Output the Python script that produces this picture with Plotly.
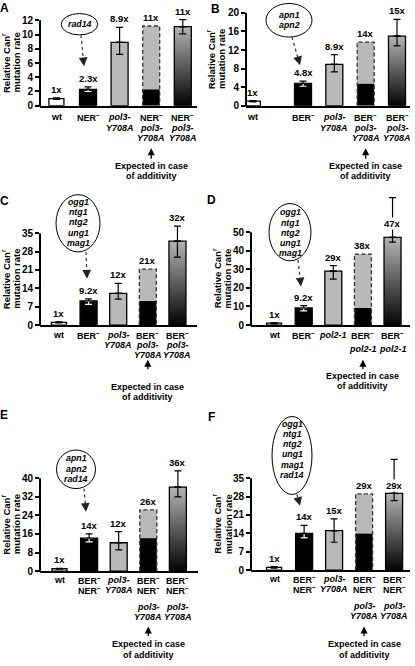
import numpy as np
import plotly.graph_objects as go

W, H = 415, 666
FONT = "Liberation Sans, Arial, sans-serif"
GRAY = "#b9b9b9"
GRAD_TOP = "#b4b4b4"
M = "<sup>–</sup>"          # superscript minus in genotype names
P3 = ["<i>pol3-</i>", "<i>Y708A</i>"]

# ---------------- data ----------------
# value order: wt, repair mutant, polymerase mutant, double mutant
A_VALUES    = [1.0, 2.3, 8.9, 11.1]
A_ERR_PLUS  = [0.12, 0.35, 2.1, 1.0]
A_ERR_MINUS = [0.12, 0.30, 1.7, 1.0]
A_LABELS    = ["1x", "2.3x", "8.9x", "11x", "11x"]
A_GENES     = ["rad14"]
A_TICKS     = [["wt"], ["NER" + M], P3, ["NER" + M] + P3, ["NER" + M] + P3]
A_YTICKS    = [0, 2, 4, 6, 8, 10, 12]

B_VALUES    = [1.0, 4.8, 8.9, 15.0]
B_ERR_PLUS  = [0.12, 0.5, 2.1, 3.6]
B_ERR_MINUS = [0.15, 0.6, 1.6, 2.1]
B_LABELS    = ["1x", "4.8x", "8.9x", "14x", "15x"]
B_GENES     = ["apn1", "apn2"]
B_TICKS     = [["wt"], ["BER" + M], P3, ["BER" + M] + P3, ["BER" + M] + P3]
B_YTICKS    = [0, 4, 8, 12, 16, 20]

C_VALUES    = [1.0, 9.2, 12.1, 32.0]
C_ERR_PLUS  = [0.2, 0.8, 3.8, 5.7]
C_ERR_MINUS = [0.2, 1.3, 2.2, 6.1]
C_LABELS    = ["1x", "9.2x", "12x", "21x", "32x"]
C_GENES     = ["ogg1", "ntg1", "ntg2", "ung1", "mag1"]
C_TICKS     = [["wt"], ["BER" + M], P3, ["BER" + M] + P3, ["BER" + M] + P3]
C_YTICKS    = [0, 7, 14, 21, 28, 35]

D_VALUES    = [1.0, 9.2, 29.0, 47.2]
D_ERR_PLUS  = [0.3, 1.3, 3.0, 21.4]
D_ERR_MINUS = [0.3, 1.6, 4.3, 2.5]
D_LABELS    = ["1x", "9.2x", "29x", "38x", "47x"]
D_GENES     = ["ogg1", "ntg1", "ntg2", "ung1", "mag1"]
D_TICKS     = [["wt"], ["BER" + M], ["<i>pol2-1</i>"], ["BER" + M, "<i>pol2-1</i>"],
               ["BER" + M, "<i>pol2-1</i>"]]
D_YTICKS    = [0, 10, 20, 30, 40, 50]

E_VALUES    = [1.0, 14.2, 12.2, 36.2]
E_ERR_PLUS  = [0.2, 1.8, 4.8, 7.0]
E_ERR_MINUS = [0.2, 1.6, 3.1, 4.2]
E_LABELS    = ["1x", "14x", "12x", "26x", "36x"]
E_GENES     = ["apn1", "apn2", "rad14"]
E_TICKS     = [["wt"], ["BER" + M, "NER" + M], P3, ["BER" + M, "NER" + M] + P3,
               ["BER" + M, "NER" + M] + P3]
E_YTICKS    = [0, 8, 16, 24, 32, 40]

F_VALUES    = [1.0, 14.0, 15.0, 29.2]
F_ERR_PLUS  = [0.3, 3.0, 4.5, 13.0]
F_ERR_MINUS = [0.3, 1.7, 4.4, 2.7]
F_LABELS    = ["1x", "14x", "15x", "29x", "29x"]
F_GENES     = ["ogg1", "ntg1", "ntg2", "ung1", "mag1", "rad14"]
F_TICKS     = E_TICKS
F_YTICKS    = [0, 7, 14, 21, 28, 35]

# ---------------- layout (pixel geometry of each panel) ----------------
LAYOUTS = {
    "A": dict(letter=(4, 6), x0=40, x1=197, xr=(-0.52, 4.45), yz=105, yt=18.5,
              rows=[11.5, 22, 32.5], ell=(79.5, 22.5, 18.3, 10.8), gene_y=[22.5],
              arrow=((81, 33.5), (84, 65)), exp_arrow=(160, 148), exp_text=(166, 176.5),
              ytitle_x=(6, 16.5)),
    "B": dict(letter=(215, 7), x0=246, x1=410, xr=(-0.82, 4.415), yz=105, yt=11,
              wt_shift=-0.6,
              rows=[11.5, 22, 32.5], ell=(289, 18.5, 23, 17), gene_y=[13.5, 23.5],
              arrow=((292, 35.5), (300, 64)), exp_arrow=(160, 148), exp_text=(166, 176.5),
              ytitle_x=(211, 221.7)),
    "C": dict(letter=(4, 201), x0=40, x1=197, xr=(-0.64, 4.66), yz=327, yt=234,
              rows=[9.5, 19.7, 29.9], ell=(78, 224, 22, 29), gene_y=[202, 212.5, 223, 233.5, 244],
              arrow=((86, 253), (87, 280)), exp_arrow=(373, 362), exp_text=(389.5, 400),
              ytitle_x=(6, 16.5)),
    "D": dict(letter=(211, 200), x0=251, x1=410, xr=(-0.78, 4.59), yz=327, yt=233,
              rows=[9.5, 24], ell=(290, 233, 21, 29), gene_y=[213, 223.3, 233.6, 243.9, 254.2],
              arrow=((298, 261), (301, 288)), exp_arrow=(373, 362), exp_text=(378.5, 389),
              ytitle_x=(216.5, 227.2), final_on_bar=True, final_shift=7),
    "E": dict(letter=(4, 418), x0=40, x1=198, xr=(-0.66, 4.68), yz=576, yt=482,
              rows=[8.5, 18.7, 36, 46.2], ell=(76, 473, 19.5, 19.5), gene_y=[462, 472.2, 482.4],
              arrow=((84, 492.5), (86, 516)), exp_arrow=(643, 632), exp_text=(650, 660.5),
              ytitle_x=(6, 16.5)),
    "F": dict(letter=(211.5, 420), x0=251, x1=410, xr=(-0.77, 4.53), yz=575, yt=482,
              rows=[8.5, 18.7, 36, 46.2], ell=(292, 459, 20, 39.5),
              gene_y=[427, 437.3, 447.6, 457.9, 468.2, 478.5],
              arrow=((297, 498.5), (300, 510)), exp_arrow=(643, 632), exp_text=(650, 660.5),
              ytitle_x=(217.5, 228.2), final_on_bar=True, final_shift=1),
}

PANELS = [
    dict(name="A", values=A_VALUES, err_plus=A_ERR_PLUS, err_minus=A_ERR_MINUS, labels=A_LABELS,
         genes=A_GENES, ticks=A_TICKS, yticks=A_YTICKS),
    dict(name="B", values=B_VALUES, err_plus=B_ERR_PLUS, err_minus=B_ERR_MINUS, labels=B_LABELS,
         genes=B_GENES, ticks=B_TICKS, yticks=B_YTICKS),
    dict(name="C", values=C_VALUES, err_plus=C_ERR_PLUS, err_minus=C_ERR_MINUS, labels=C_LABELS,
         genes=C_GENES, ticks=C_TICKS, yticks=C_YTICKS),
    dict(name="D", values=D_VALUES, err_plus=D_ERR_PLUS, err_minus=D_ERR_MINUS, labels=D_LABELS,
         genes=D_GENES, ticks=D_TICKS, yticks=D_YTICKS),
    dict(name="E", values=E_VALUES, err_plus=E_ERR_PLUS, err_minus=E_ERR_MINUS, labels=E_LABELS,
         genes=E_GENES, ticks=E_TICKS, yticks=E_YTICKS),
    dict(name="F", values=F_VALUES, err_plus=F_ERR_PLUS, err_minus=F_ERR_MINUS, labels=F_LABELS,
         genes=F_GENES, ticks=F_TICKS, yticks=F_YTICKS),
]


def px_x(p):
    return p / W


def px_y(p):
    return 1 - p / H


fig = go.Figure()
annotations, shapes, axes = [], [], {}
VAL_FONT = dict(family=FONT, size=9.5, color="black")
TXT = dict(family=FONT, size=9, color="black")

for i, P in enumerate(PANELS, start=1):
    L = LAYOUTS[P["name"]]
    xa = "x" if i == 1 else f"x{i}"
    ya = "y" if i == 1 else f"y{i}"
    xk = "xaxis" if i == 1 else f"xaxis{i}"
    yk = "yaxis" if i == 1 else f"yaxis{i}"
    ydom = f"{ya} domain"
    vals, ep, em = P["values"], P["err_plus"], P["err_minus"]
    ymax = P["yticks"][-1]
    xr = L["xr"]
    ppu = (L["x1"] - L["x0"]) / (xr[1] - xr[0])
    wb, ww = 17.0 / ppu, 15.0 / ppu
    xpos = np.arange(5, dtype=float)
    xpos[0] += L.get("wt_shift", 0.0)
    x_wt, x_r, x_p, x_e, x_d = xpos
    exp_base, exp_add = vals[1], vals[2]
    exp_top = exp_base + exp_add
    common = dict(xaxis=xa, yaxis=ya, showlegend=False, hoverinfo="skip")

    # the axis range is extended above the top tick so that long error bars are not clipped;
    # the visible axis line stops at the top tick as in the original figure
    highest = max(v + e for v, e in zip(vals, ep))
    yext = max(ymax, highest) * 1.04
    px_per_unit = (L["yz"] - L["yt"]) / ymax
    dom_top_px = L["yz"] - yext * px_per_unit

    # measured single mutants and wild type
    fig.add_bar(x=[x_wt, x_r, x_p], y=vals[:3], width=[ww, wb, wb],
                marker=dict(color=["white", "black", GRAY], line=dict(color="black", width=1.3)),
                **common)
    # expected (additive) stacked bar
    fig.add_bar(x=[x_e], y=[exp_base], width=[wb], marker=dict(color="black", line=dict(width=0)),
                **common)
    fig.add_bar(x=[x_e], y=[exp_add], base=[exp_base], width=[wb],
                marker=dict(color=GRAY, line=dict(width=0)), **common)
    xl, xh = x_e - wb / 2, x_e + wb / 2
    fig.add_scatter(x=[xl, xl, xh, xh], y=[0, exp_top, exp_top, 0], mode="lines",
                    line=dict(color="#333333", width=1.3, dash="4px,2.5px"), **common)
    # double mutant with vertical gradient
    xl, xh = x_d - wb / 2, x_d + wb / 2
    fig.add_scatter(x=[xl, xh, xh, xl, xl], y=[0, 0, vals[3], vals[3], 0], mode="lines",
                    fill="toself",
                    fillgradient=dict(type="vertical", colorscale=[[0, "black"], [1, GRAD_TOP]],
                                      start=0, stop=vals[3]),
                    line=dict(color="black", width=1.3), **common)

    # error bars: lower halves first (white inside the black bar), then upper halves
    eb = dict(type="data", symmetric=False, thickness=1.2, width=3.5)
    mk = dict(size=2, color="rgba(0,0,0,0)")
    fig.add_scatter(x=[x_wt, x_p, x_d], y=[vals[0], vals[2], vals[3]], mode="markers", marker=mk,
                    error_y=dict(eb, array=[0, 0, 0], arrayminus=[em[0], em[2], em[3]], color="black"),
                    cliponaxis=False, **common)
    fig.add_scatter(x=[x_r], y=[vals[1]], mode="markers", marker=mk,
                    error_y=dict(eb, array=[0], arrayminus=[em[1]], color="white"),
                    cliponaxis=False, **common)
    fig.add_scatter(x=[x_wt, x_r, x_p, x_d], y=vals, mode="markers", marker=mk,
                    error_y=dict(eb, array=ep, arrayminus=[0, 0, 0, 0], color="black"),
                    cliponaxis=False, **common)

    # value labels
    tops = [vals[0] + ep[0], vals[1] + ep[1], vals[2] + ep[2], exp_top, vals[3] + ep[3]]
    shifts = [2, 2, 2, 2, 2]
    bgs = [None] * 5
    if L.get("final_on_bar"):
        tops[4] = vals[3]
        shifts[4] = L["final_shift"]
        bgs[4] = "white"
    for x, t, lab, s, bg in zip(xpos, tops, P["labels"], shifts, bgs):
        a = dict(x=x, y=t, xref=xa, yref=ya, text=f"<b>{lab}</b>", showarrow=False,
                 xanchor="center", yanchor="bottom", yshift=s, font=VAL_FONT, borderpad=0)
        if bg:
            a["bgcolor"] = bg
        annotations.append(a)

    # category labels under the axis
    for x, lines in zip(xpos, P["ticks"]):
        for r, txt in enumerate(lines):
            annotations.append(dict(x=x, y=0, xref=xa, yref=ydom, text=f"<b>{txt}</b>",
                                    showarrow=False, xanchor="center", yanchor="middle",
                                    yshift=-L["rows"][r], font=TXT))

    # "Expected in case of additivity"
    tip, tail = L["exp_arrow"][1], L["exp_arrow"][0]
    annotations.append(dict(x=x_e, y=px_y(tip), xref=xa, yref="paper", text="", showarrow=True,
                            ax=0, ay=tail - tip, arrowhead=2, arrowsize=1.1, arrowwidth=1.3,
                            arrowcolor="black", standoff=0))
    for txt, yy in zip(["Expected in case", "of additivity"], L["exp_text"]):
        annotations.append(dict(x=x_e, y=px_y(yy), xref=xa, yref="paper", text=f"<b>{txt}</b>",
                                showarrow=False, xanchor="center", yanchor="middle", font=TXT))

    # gene ellipse + dotted arrow
    cx, cy, rx, ry = L["ell"]
    shapes.append(dict(type="circle", xref="paper", yref="paper",
                       x0=px_x(cx - rx), x1=px_x(cx + rx), y0=px_y(cy + ry), y1=px_y(cy - ry),
                       line=dict(color="black", width=1), fillcolor="white", layer="above"))
    for g, gy in zip(P["genes"], L["gene_y"]):
        annotations.append(dict(x=px_x(cx), y=px_y(gy), xref="paper", yref="paper",
                                text=f"<b><i>{g}</i></b>", showarrow=False, xanchor="center",
                                yanchor="middle", font=dict(family=FONT, size=8.8, color="black")))
    (sx, sy), (tx, ty) = L["arrow"]
    dx, dy = tx - sx, ty - sy
    ln = (dx ** 2 + dy ** 2) ** 0.5
    shapes.append(dict(type="line", xref="paper", yref="paper", x0=px_x(sx), y0=px_y(sy),
                       x1=px_x(tx - dx / ln * 3), y1=px_y(ty - dy / ln * 3),
                       line=dict(color="#333333", width=1.2, dash="dot")))
    annotations.append(dict(x=px_x(tx), y=px_y(ty), xref="paper", yref="paper", text="",
                            showarrow=True, ax=-dx / ln * 6, ay=-dy / ln * 6, arrowhead=2,
                            arrowsize=1.6, arrowwidth=1.1, arrowcolor="#222222", standoff=0))

    # visible y-axis line: from 0 to the top tick
    shapes.append(dict(type="line", xref="paper", yref="paper", x0=px_x(L["x0"]), x1=px_x(L["x0"]),
                       y0=px_y(L["yz"] + 1), y1=px_y(L["yt"]), line=dict(color="black", width=2),
                       layer="above"))

    # y-axis title
    ymid = (L["yz"] + L["yt"]) / 2
    for txt, tx_ in zip(["Relative Can<sup>r</sup>", "mutation rate"], L["ytitle_x"]):
        annotations.append(dict(x=px_x(tx_), y=px_y(ymid), xref="paper", yref="paper",
                                text=f"<b>{txt}</b>", showarrow=False, textangle=-90,
                                xanchor="center", yanchor="middle",
                                font=dict(family=FONT, size=9.5, color="black")))
    # panel letter
    lx, ly = L["letter"]
    annotations.append(dict(x=px_x(lx), y=px_y(ly), xref="paper", yref="paper",
                            text=f"<b>{P['name']}</b>", showarrow=False, xanchor="center",
                            yanchor="middle", font=dict(family=FONT, size=12, color="black")))

    axes[xk] = dict(domain=[L["x0"] / W, L["x1"] / W], range=list(xr), anchor=ya,
                    showline=True, linecolor="black", linewidth=2, showgrid=False,
                    zeroline=False, showticklabels=False, ticks="", fixedrange=True)
    axes[yk] = dict(domain=[1 - L["yz"] / H, 1 - dom_top_px / H], range=[0, yext], anchor=xa,
                    tickvals=P["yticks"], ticks="outside", ticklen=4, tickwidth=1.5,
                    tickcolor="black", showline=False, showgrid=False, zeroline=False,
                    fixedrange=True,
                    tickfont=dict(family=FONT, size=10, color="black", weight="bold"))

fig.update_layout(width=W, height=H, margin=dict(l=0, r=0, t=0, b=0),
                  paper_bgcolor="white", plot_bgcolor="rgba(0,0,0,0)", barmode="overlay",
                  font=dict(family=FONT, color="black"), showlegend=False,
                  annotations=annotations, shapes=shapes, **axes)

fig.write_html("out.html", config={"displayModeBar": False},
               post_script="document.body.style.margin='0';document.body.style.padding='0';"
                           "document.body.style.overflow='hidden';")
